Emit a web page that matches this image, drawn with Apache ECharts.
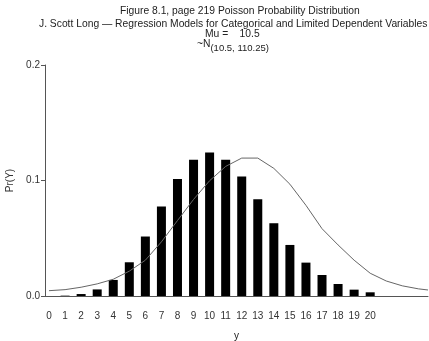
<!DOCTYPE html>
<html>
<head>
<meta charset="utf-8">
<script src="https://cdn.jsdelivr.net/npm/echarts@6/dist/echarts.min.js"></script>
<style>
  html, body { margin: 0; padding: 0; background: #fff; }
  #chart { width: 429px; height: 341px; }
</style>
</head>
<body>
<div id="chart"></div>
<script>
// Poisson probabilities
const counts = [0, 1, 2, 3, 4, 5, 6, 7, 8, 9, 10, 11, 12, 13, 14, 15, 16, 17, 18, 19, 20];
const probs = [0.0000, 0.0003, 0.0017, 0.0057, 0.0139, 0.0292, 0.0515, 0.0775, 0.1012, 0.118, 0.1243,
  0.118, 0.1035, 0.0838, 0.063, 0.0442, 0.0289, 0.0182, 0.0104, 0.0055, 0.0032];

// normal curve
const curveX = [0, 1, 2, 3, 4, 5, 6, 7, 8, 9, 10, 11, 12, 13, 14, 15, 16, 17, 18, 19, 20, 21, 22, 23, 23.6];
const curveY = [0.0046, 0.0055, 0.0076, 0.0105, 0.0145, 0.0215, 0.031, 0.0469, 0.0653, 0.0836, 0.0998,
  0.1122, 0.1194, 0.1194, 0.1105, 0.0968, 0.0785, 0.0583, 0.0442, 0.031, 0.0197, 0.013, 0.0088, 0.0062, 0.0052];

const font = "Liberation Sans";
const chart = echarts.init(document.getElementById("chart"), null, { renderer: "canvas" });

chart.setOption({
  animation: false,
  backgroundColor: "#fff",
  textStyle: { fontFamily: font },
  title: [
    {
      text: "Figure 8.1, page 219 Poisson Probability Distribution",
      left: 115, top: 1,
      textStyle: { fontFamily: font, fontSize: 10.3, fontWeight: "normal", color: "#222" },
    },
    {
      text: "J. Scott Long \u2014 Regression Models for Categorical and Limited Dependent Variables",
      left: 34, top: 14,
      textStyle: { fontFamily: font, fontSize: 10.3, fontWeight: "normal", color: "#222" },
    },
  ],
  graphic: [
    {
      type: "text", left: 205, top: 29,
      style: { text: "Mu =    10.5", font: "10.3px " + font, fill: "#222" },
    },
    {
      type: "text", left: 197, top: 39,
      style: {
        text: "{a|~N}{b|(10.5, 110.25)}",
        rich: {
          a: { font: "10.3px " + font, fill: "#222" },
          b: { font: "9.5px " + font, fill: "#222", padding: [8, 0, 0, 0] },
        },
      },
    },
  ],
  grid: { left: 45, right: 1, top: 65, bottom: 45, outerBoundsMode: "none", containLabel: false },
  xAxis: {
    type: "value",
    min: -0.25,
    max: 23.6,
    name: "y",
    nameLocation: "middle",
    nameGap: 35,
    nameTextStyle: { fontFamily: font, fontSize: 10, color: "#222" },
    axisLine: { show: true, onZero: false, lineStyle: { color: "#555", width: 1 } },
    axisTick: { show: false },
    splitLine: { show: false },
    axisLabel: {
      customValues: counts,
      margin: 15,
      fontFamily: font, fontSize: 10, color: "#333",
    },
  },
  yAxis: {
    type: "value",
    min: 0,
    max: 0.2,
    interval: 0.1,
    name: "Pr(Y)",
    nameLocation: "middle",
    nameGap: 30,
    nameTextStyle: { fontFamily: font, fontSize: 10, color: "#333" },
    axisLine: { show: true, onZero: false, lineStyle: { color: "#555", width: 1 } },
    axisTick: { show: true, length: 4, lineStyle: { color: "#555" } },
    splitLine: { show: false },
    axisLabel: {
      margin: 5,
      fontFamily: font, fontSize: 10, color: "#333",
      formatter: (v) => v.toFixed(1),
    },
  },
  series: [
    {
      type: "bar",
      data: counts.map((c, i) => [c, probs[i]]),
      barWidth: 9,
      itemStyle: { color: "#000" },
    },
    {
      type: "line",
      data: curveX.map((x, i) => [x, curveY[i]]),
      showSymbol: false,
      smooth: false,
      lineStyle: { color: "#666", width: 1 },
    },
  ],
});
</script>
</body>
</html>
